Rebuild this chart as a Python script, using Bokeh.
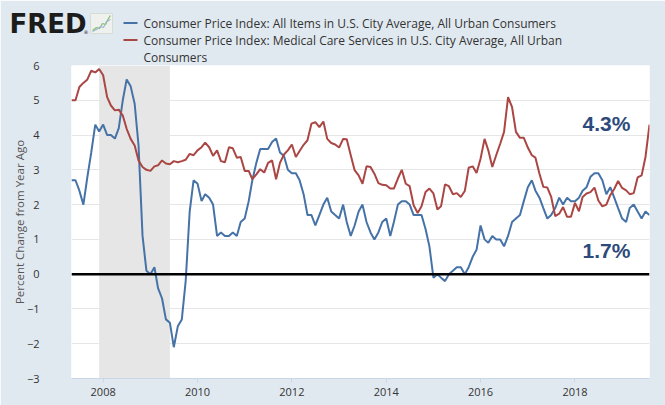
import pandas as pd
from bokeh.plotting import figure
from bokeh.models import (Range1d, FixedTicker, BoxAnnotation, Span, Label,
                          ColumnDataSource, DatetimeTickFormatter)
from bokeh.core.properties import value
from bokeh.embed import file_html
from bokeh.resources import INLINE

# ---------------- data ----------------
start_month = "2007-05-01"   # first monthly observation

cpi_all_items = [
    2.7, 2.7, 2.4, 2.0, 2.8, 3.5, 4.3, 4.1,
    4.3, 4.0, 4.0, 3.9, 4.2, 5.0, 5.6, 5.4, 4.9, 3.7, 1.1, 0.1,
    0.0, 0.2, -0.4, -0.7, -1.3, -1.4, -2.1, -1.5, -1.3, -0.2, 1.8, 2.7,
    2.6, 2.1, 2.3, 2.2, 2.0, 1.1, 1.2, 1.1, 1.1, 1.2, 1.1, 1.5,
    1.6, 2.1, 2.7, 3.2, 3.6, 3.6, 3.6, 3.8, 3.9, 3.5, 3.4, 3.0,
    2.9, 2.9, 2.7, 2.3, 1.7, 1.7, 1.4, 1.7, 2.0, 2.2, 1.8, 1.7,
    1.6, 2.0, 1.5, 1.1, 1.4, 1.8, 2.0, 1.5, 1.2, 1.0, 1.2, 1.5,
    1.6, 1.1, 1.5, 2.0, 2.1, 2.1, 2.0, 1.7, 1.7, 1.7, 1.3, 0.8,
    -0.1, 0.0, -0.1, -0.2, 0.0, 0.1, 0.2, 0.2, 0.0, 0.2, 0.5, 0.7,
    1.4, 1.0, 0.9, 1.1, 1.0, 1.0, 0.8, 1.1, 1.5, 1.6, 1.7, 2.1,
    2.5, 2.7, 2.4, 2.2, 1.9, 1.6, 1.7, 1.9, 2.2, 2.0, 2.2, 2.1,
    2.1, 2.2, 2.4, 2.5, 2.8, 2.9, 2.9, 2.7, 2.3, 2.5, 2.2, 1.9,
    1.6, 1.5, 1.9, 2.0, 1.8, 1.6, 1.8, 1.7,
]

cpi_medical_care_services = [
    5.0, 5.0, 5.38, 5.5, 5.6, 5.85, 5.8, 5.9, 5.72, 5.09,
    4.85, 4.71, 4.73, 4.56, 4.18, 3.89, 3.7, 3.27, 3.08, 3.0,
    2.97, 3.1, 3.13, 3.27, 3.18, 3.16, 3.25, 3.22, 3.25, 3.29,
    3.46, 3.42, 3.56, 3.65, 3.78, 3.65, 3.40, 3.56, 3.25, 3.22,
    3.65, 3.62, 3.35, 3.37, 2.97, 2.97, 2.73, 2.87, 3.02, 2.92,
    3.2, 3.27, 2.73, 3.2, 3.44, 3.56, 3.73, 3.37, 3.54,
    3.72, 3.85, 4.33, 4.37, 4.23, 4.39, 3.89, 3.77, 3.73, 3.64,
    3.89, 3.88, 3.42, 2.99, 2.84, 2.60, 3.1, 3.08, 2.89, 2.62,
    2.57, 2.56, 2.46, 2.46, 2.75, 3.0, 2.6, 2.53, 1.98, 1.76, 1.95,
    2.36, 2.46, 2.32, 1.86, 1.95, 2.58, 2.53, 2.30, 2.33, 2.22,
    2.39, 3.06, 3.10, 2.91, 3.32, 3.89, 3.56, 3.08, 3.42, 3.75,
    4.09, 5.09, 4.8, 4.09, 3.92, 3.92, 3.64,
    3.42, 3.35, 2.89, 2.51, 2.49, 2.22, 1.67, 1.74, 1.93, 1.65,
    1.65, 2.05, 1.81, 2.22, 2.32, 2.36, 2.49, 2.12, 1.95, 2.0,
    2.27, 2.45, 2.68, 2.48, 2.41, 2.30, 2.33, 2.78, 2.84, 3.37, 4.3,
]

recession_start = "2007-12-01"
recession_end = "2009-06-01"

x_tick_years = [2008, 2010, 2012, 2014, 2016, 2018]
y_ticks = [-3, -2, -1, 0, 1, 2, 3, 4, 5, 6]
y_range_limits = [-3, 6]

legend_lines = [
    "Consumer Price Index: All Items in U.S. City Average, All Urban Consumers",
    "Consumer Price Index: Medical Care Services in U.S. City Average, All Urban",
    "Consumers",
]
y_axis_title = "Percent Change from Year Ago"
latest_labels = ["4.3%", "1.7%"]
logo_text = "FRED"

# ---------------- styling ----------------
BLUE = "#4572a7"
RED = "#aa4643"
BG = "#e1e9f0"
NOTE = "#2d4a7c"
TEXT = "#333333"


def ms(d):
    return pd.Timestamp(d).value / 1e6


dates = pd.date_range(start_month, periods=len(cpi_all_items), freq="MS")
src = ColumnDataSource(dict(date=dates, all_items=cpi_all_items,
                            medical=cpi_medical_care_services))

W, H = 665, 405
FL, FR, FT, FB = 71, 649, 65, 378   # plot frame edges in page pixels

p = figure(width=W, height=H, x_axis_type="datetime",
           x_range=Range1d(ms(dates[0]), ms(dates[-1])),
           y_range=Range1d(*y_range_limits),
           output_backend="svg", toolbar_location=None, title=None,
           min_border_left=FL, min_border_right=W - FR,
           min_border_top=FT, min_border_bottom=H - FB,
           background_fill_color="white", border_fill_color=BG,
           outline_line_color=None)

# recession shading
p.add_layout(BoxAnnotation(left=ms(recession_start), right=ms(recession_end),
                           fill_color="#e6e6e6", fill_alpha=1.0,
                           line_color=None, level="underlay"))

p.line("date", "all_items", source=src, line_color=BLUE, line_width=2)
p.line("date", "medical", source=src, line_color=RED, line_width=2)

p.add_layout(Span(location=0, dimension="width", line_color="black", line_width=2.5))

# grid
p.xgrid.visible = False
p.ygrid.grid_line_color = "#e6e6e6"
p.ygrid.grid_line_width = 1
p.ygrid.ticker = FixedTicker(ticks=y_ticks)

# y axis
p.yaxis.ticker = FixedTicker(ticks=y_ticks)
p.yaxis.axis_line_color = None
p.yaxis.major_tick_line_color = None
p.yaxis.minor_tick_line_color = None
p.yaxis.major_label_standoff = 26
p.yaxis.major_label_text_font = "Open Sans"
p.yaxis.major_label_text_font_size = "11px"
p.yaxis.major_label_text_color = TEXT
p.yaxis.axis_label = y_axis_title
p.yaxis.axis_label_text_font = "Open Sans"
p.yaxis.axis_label_text_font_style = "normal"
p.yaxis.axis_label_text_font_size = "11.5px"
p.yaxis.axis_label_text_color = "#555555"
p.yaxis.axis_label_standoff = -3

# x axis
p.xaxis.ticker = FixedTicker(ticks=[ms(f"{y}-01-01") for y in x_tick_years])
p.xaxis.formatter = DatetimeTickFormatter(years="%Y", months="%Y", days="%Y")
p.xaxis.axis_line_color = "#ccd6eb"
p.xaxis.major_tick_line_color = "#ccd6eb"
p.xaxis.major_tick_in = 0
p.xaxis.major_tick_out = 4
p.xaxis.minor_tick_line_color = None
p.xaxis.major_label_standoff = 5
p.xaxis.major_label_text_font = "Open Sans"
p.xaxis.major_label_text_font_size = "11px"
p.xaxis.major_label_text_color = TEXT

# latest value notes (inside the frame)
for txt, py in zip(latest_labels, [123, 250]):
    p.add_layout(Label(x=582 - FL, y=FB - py, x_units="screen", y_units="screen",
                       text=txt, text_font="Liberation Sans",
                       text_font_style="bold", text_font_size="21px", text_color=NOTE,
                       text_baseline="middle", text_align="left"))

# ---------------- header (logo + legend), transparent overlay ----------------
HH = 70
hdr = figure(width=W, height=HH, x_range=Range1d(0, W), y_range=Range1d(HH, 0),
             output_backend="svg", toolbar_location=None, title=None,
             min_border=0, x_axis_location=None, y_axis_location=None,
             background_fill_alpha=0, border_fill_alpha=0, outline_line_color=None,
             styles={"position": "absolute", "top": "0px", "left": "0px",
                     "z-index": "10"})
hdr.xgrid.visible = False
hdr.ygrid.visible = False

# logo
hdr.text(x=[9], y=[23.5], text=[logo_text], text_font=value("DejaVu Sans"),
         text_font_style="bold", text_font_size="26px", text_color="#1c1c1c",
         text_baseline="middle", text_align="left")
hdr.text(x=[83], y=[31], text=["\u00ae"], text_font=value("DejaVu Sans"),
         text_font_size="5px", text_color="#1c1c1c",
         text_baseline="middle", text_align="left")
# logo icon: small framed chart
hdr.quad(left=[90], right=[112], top=[13], bottom=[33],
         fill_color="#eef1ee", line_color="#d6ddd6", line_width=1)
hdr.line(x=[92, 96, 99, 102, 105, 108, 110], y=[30, 27, 28, 23, 24, 18, 15],
         line_color="#8cbf6a", line_width=1.3)
hdr.line(x=[92, 96, 100, 103, 106, 110], y=[31, 29, 26, 27, 21, 19],
         line_color="#9bb7d3", line_width=1.1)

# legend swatches + text
row_y = [22.5, 39.5, 56.5]
hdr.segment(x0=[123, 123], x1=[137, 137], y0=row_y[:2], y1=row_y[:2],
            line_color=[BLUE, RED], line_width=2)
hdr.text(x=[143] * 3, y=row_y, text=legend_lines, text_font=value("Open Sans"),
         text_font_size="12px", text_color=TEXT, text_baseline="middle",
         text_align="left")

open("out.html", "w").write(file_html([p, hdr], INLINE))
